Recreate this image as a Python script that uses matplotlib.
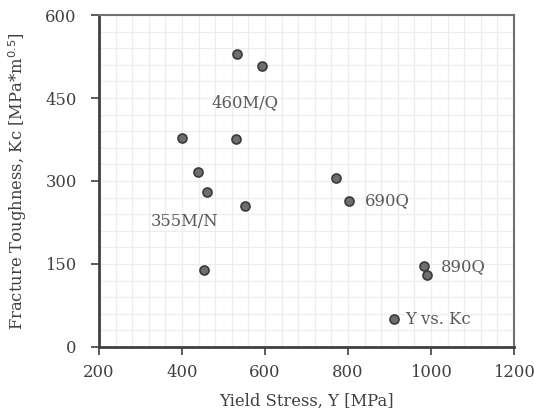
import matplotlib
matplotlib.use("Agg")
import matplotlib.pyplot as plt
from matplotlib.ticker import MultipleLocator

yield_stress = [533, 594, 400, 530, 439, 461, 552, 454, 770, 802, 984, 990, 910]
toughness = [530, 507, 378, 376, 316, 280, 254, 140, 306, 264, 147, 130, 50]

labels = ["460M/Q", "355M/N", "690Q", "890Q", "Y vs. Kc"]
label_x = [552, 407, 841, 1023, 937]
label_y = [441, 226, 264, 145, 50]
label_ha = ["center", "center", "left", "left", "left"]

x_ticks = [200, 400, 600, 800, 1000, 1200]
y_ticks = [0, 150, 300, 450, 600]

plt.rcParams['font.family'] = ['DejaVu Serif']
txt = '#404040'
fs = 11.8

fig = plt.figure(figsize=(5.34, 4.17), dpi=100)
ax = fig.add_axes([0.1854, 0.1679, 0.777, 0.7961])

ax.set_xlim(200, 1200)
ax.set_ylim(0, 600)
ax.set_xticks(x_ticks)
ax.set_yticks(y_ticks)
ax.xaxis.set_minor_locator(MultipleLocator(40))
ax.yaxis.set_minor_locator(MultipleLocator(30))
ax.grid(which='both', color='#ededed', linewidth=0.9)
ax.set_axisbelow(True)
ax.tick_params(which='minor', length=0)
ax.tick_params(which='major', length=6, width=1.2, color='#404040',
               labelsize=fs, labelcolor=txt, direction='out')
ax.tick_params(axis='x', which='major', pad=6)
ax.tick_params(axis='y', which='major', pad=10)

for s in ['left', 'bottom']:
    ax.spines[s].set_color('#404040')
    ax.spines[s].set_linewidth(2)
for s in ['top', 'right']:
    ax.spines[s].set_color('#707070')
    ax.spines[s].set_linewidth(1.5)

ax.scatter(yield_stress, toughness, s=42, facecolor='#6e6e6e',
           edgecolor='#3a3a3a', linewidth=1.2, zorder=3)

for t, x, y, ha in zip(labels, label_x, label_y, label_ha):
    ax.text(x, y, t, ha=ha, va='center', fontsize=fs, color='#595959')

ax.set_xlabel("Yield Stress, Y [MPa]", fontsize=fs, color=txt, labelpad=9)
ax.set_ylabel(r"Fracture Toughness, Kc [MPa*m$^{0.5}$]", fontsize=fs,
              color=txt, labelpad=12)

fig.savefig("out.png", dpi=100)
